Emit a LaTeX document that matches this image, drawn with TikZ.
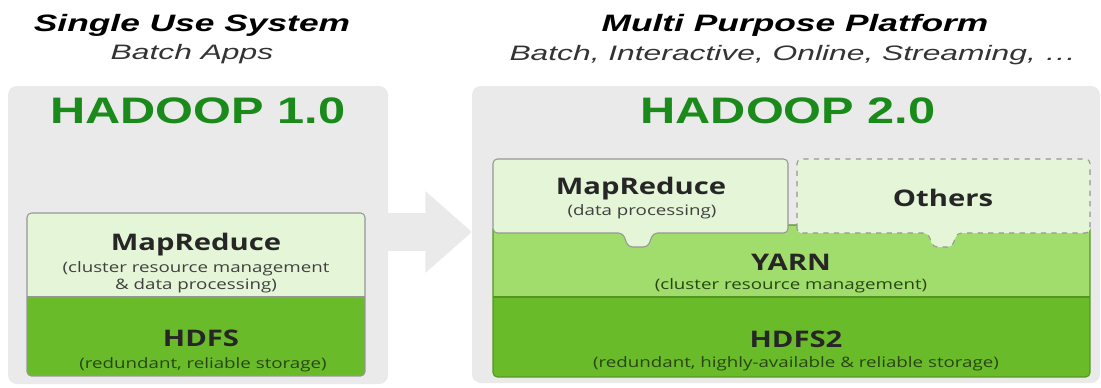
\documentclass[tikz,border=0pt]{standalone}
\usepackage{fontspec}
\setmainfont{Liberation Sans}
\newfontfamily\boxfont{Open Sans}
\usetikzlibrary{arrows.meta}
\definecolor{panelgray}{RGB}{234,234,234}
\definecolor{titlegreen}{RGB}{26,138,26}
\definecolor{palegreen}{RGB}{228,246,215}
\definecolor{yarngreen}{RGB}{160,221,108}
\definecolor{hdfsgreen}{RGB}{106,187,42}
\definecolor{edgegray}{RGB}{150,150,150}
\definecolor{notegreen}{RGB}{40,70,20}

\begin{document}
\begin{tikzpicture}[x=0.02cm, y=-0.02cm,
	panel/.style = {fill=panelgray, rounded corners=5pt},
	layer/.style = {draw=edgegray, line width=0.6pt, rounded corners=2.5pt},
	head/.style = {font=\fontsize{13.5}{16}\selectfont\bfseries\itshape, xscale=1.49},
	sub/.style = {font=\fontsize{11.9}{14}\selectfont\itshape, text=black!80, xscale=1.52},
	title/.style = {font=\fontsize{21}{24}\selectfont\bfseries, text=titlegreen, xscale=1.32},
	layername/.style = {font=\boxfont\fontsize{13}{15}\selectfont\bfseries, text=black!85, xscale=1.28},
	layernote/.style = {font=\boxfont\fontsize{8.2}{9.6}\selectfont, text=black!75, xscale=1.3}]
	
	\useasboundingbox (0,0) rectangle (1101,387);
	
	\fill[panel] (8,86) rectangle (388,384);
	\fill[panel] (472,86) rectangle (1100,383);
	
	\coordinate (from) at (386,232);
	\coordinate (to) at (472,232);
	\draw[panelgray, line width=22pt, -{Triangle[length=26.6pt, width=45pt]}] (from) -- (to);
	
	% hadoop 1.0
	\begin{scope}
		\clip[rounded corners=2.5pt] (27,213) rectangle (365,376);
		\fill[palegreen] (27,213) rectangle (365,297);
		\fill[hdfsgreen] (27,297) rectangle (365,376);
	\end{scope}
	\draw[layer] (27,213) rectangle (365,376);
	\draw[edgegray, line width=0.6pt] (27,297) -- (365,297);
	
	% hadoop 2.0
	\begin{scope}
		\clip[rounded corners=2.5pt] (493,225) rectangle (1090,377);
		\fill[yarngreen] (493,225) rectangle (1090,297);
		\fill[hdfsgreen] (493,297) rectangle (1090,377);
	\end{scope}
	\draw[layer, draw=hdfsgreen!80!black] (493,225) rectangle (1090,377);
	\draw[hdfsgreen!80!black, line width=0.6pt] (493,297) -- (1090,297);
	
	\draw[layer, fill=palegreen] (493,233) -- (493,159) -- (788,159) -- (788,233) -- (653,233) -- (648,247) -- (628,247) -- (623,233) -- cycle;
	\draw[layer, fill=palegreen, dashed] (797,233) -- (797,159) -- (1090,159) -- (1090,233) -- (957,233) -- (952,247) -- (933,247) -- (928,233) -- cycle;
	
	\node[head] (single) at (192,25) {Single Use System};
	\node[sub] (batch) at (192,54) {Batch Apps};
	\node[head] (multi) at (795,25) {Multi Purpose Platform};
	\node[sub] (kinds) at (793,55) {Batch, Interactive, Online, Streaming, \dots};
	
	\node[title] (h1) at (198,111) {HADOOP 1.0};
	\node[title] (h2) at (788,111) {HADOOP 2.0};
	
	\node[layername] (mr1) at (196,245) {MapReduce};
	\node[layernote, align=center] (mr1note) at (196,277) {(cluster resource management\\\& data processing)};
	\node[layername] (hdfs1) at (201,338) {HDFS};
	\node[layernote, text=notegreen] (hdfs1note) at (203,365) {(redundant, reliable storage)};
	
	\node[layername] (mr2) at (641,189) {MapReduce};
	\node[layernote] (mr2note) at (642,212) {(data processing)};
	\node[layername] (others) at (943,198) {Others};
	\node[layername] (yarn) at (791,262) {YARN};
	\node[layernote, text=notegreen] (yarnnote) at (791,286) {(cluster resource management)};
	\node[layername] (hdfs2) at (796,339) {HDFS2};
	\node[layernote, text=notegreen] (hdfs2note) at (796,364) {(redundant, highly-available \& reliable storage)};
	
\end{tikzpicture}
\end{document}
